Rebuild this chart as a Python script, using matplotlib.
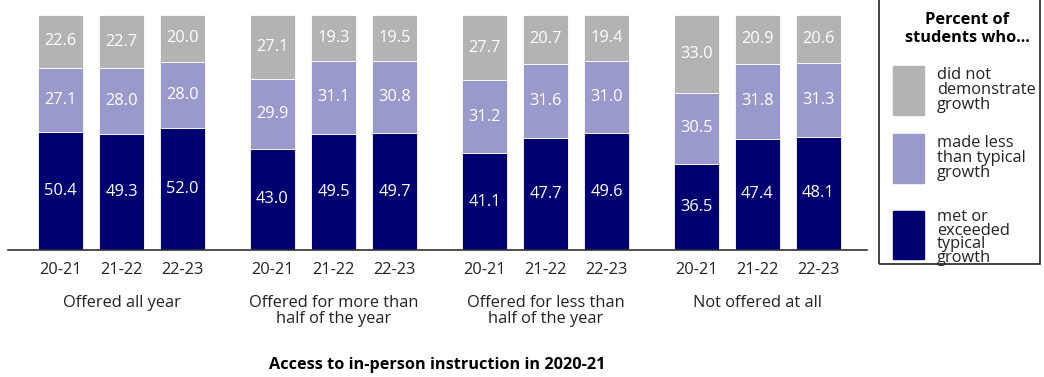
import numpy as np
import matplotlib.pyplot as plt
from matplotlib.patches import Rectangle

plt.rcParams['font.family'] = ['Open Sans', 'DejaVu Sans']

groups = ['Offered all year', 'Offered for more than\nhalf of the year',
          'Offered for less than\nhalf of the year', 'Not offered at all']
years = ['20-21', '21-22', '22-23']

met = [50.4, 49.3, 52.0, 43.0, 49.5, 49.7, 41.1, 47.7, 49.6, 36.5, 47.4, 48.1]
less = [27.1, 28.0, 28.0, 29.9, 31.1, 30.8, 31.2, 31.6, 31.0, 30.5, 31.8, 31.3]
none = [22.6, 22.7, 20.0, 27.1, 19.3, 19.5, 27.7, 20.7, 19.4, 33.0, 20.9, 20.6]

series_names = ['did not\ndemonstrate\ngrowth', 'made less\nthan typical\ngrowth',
                'met or\nexceeded\ntypical\ngrowth']
c_none, c_less, c_met = '#b3b3b3', '#9999cc', '#000070'

pitch = 3.475
x = np.array([g * pitch + i for g in range(len(groups)) for i in range(len(years))])

fig = plt.figure(figsize=(10.44, 3.77), dpi=100)
ax = fig.add_axes([8 / 1044, 127 / 377, 859 / 1044, 235 / 377])

met = np.array(met)
less = np.array(less)
none = np.array(none)
w = 0.74
ax.bar(x, met, w, color=c_met, edgecolor='white', linewidth=0.6)
ax.bar(x, less, w, bottom=met, color=c_less, edgecolor='white', linewidth=0.6)
ax.bar(x, none, w, bottom=met + less, color=c_none, edgecolor='white', linewidth=0.6)

fs = 11.8
for xi, a, b, c in zip(x, met, less, none):
    ax.text(xi, a / 2, f'{a:.1f}', ha='center', va='center', color='white', fontsize=fs)
    ax.text(xi, a + b / 2, f'{b:.1f}', ha='center', va='center', color='white', fontsize=fs)
    ax.text(xi, a + b + c / 2, f'{c:.1f}', ha='center', va='center', color='white', fontsize=fs)

ax.set_xlim(-0.86, 13.22)
ax.set_ylim(0, 100)
ax.set_yticks([])
ax.set_xticks(x)
ax.set_xticklabels(years * len(groups), fontsize=fs, color='#222222')
ax.tick_params(axis='x', length=0, pad=9)
for s in ['top', 'right', 'left']:
    ax.spines[s].set_visible(False)
ax.spines['bottom'].set_linewidth(1.2)
ax.spines['bottom'].set_color('#333333')

for g, name in enumerate(groups):
    ax.text(g * pitch + 1, -0.19, name, transform=ax.get_xaxis_transform(),
            ha='center', va='top', fontsize=fs, color='#222222', linespacing=1.0)

fig.text(437.5 / 1044, 1 - 365 / 377, 'Access to in-person instruction in 2020-21',
         ha='center', va='center', fontsize=11.7, fontweight='bold')

# legend panel
fig.patches.append(Rectangle((879 / 1044, 1 - 264 / 377), 161 / 1044, 270 / 377,
                             transform=fig.transFigure, fill=False,
                             edgecolor='#222222', linewidth=1.2))
fig.text(967 / 1044, 1 - 29 / 377, 'Percent of\nstudents who...', ha='center',
         va='center', fontsize=11.8, fontweight='bold', linespacing=1.15)
boxes = [(66, 115), (134, 183), (211, 259)]
text_tops = [67, 135, 209]
spacings = [0.92, 0.92, 0.8]
for (y0, y1), ty, sp, col, lab in zip(boxes, text_tops, spacings,
                                      [c_none, c_less, c_met], series_names):
    fig.patches.append(Rectangle((893 / 1044, 1 - y1 / 377), 31 / 1044, (y1 - y0) / 377,
                                 transform=fig.transFigure, color=col))
    fig.text(937 / 1044, 1 - ty / 377, lab, ha='left', va='top', fontsize=fs,
             color='#222222', linespacing=sp)

fig.savefig('out.png', dpi=100)
